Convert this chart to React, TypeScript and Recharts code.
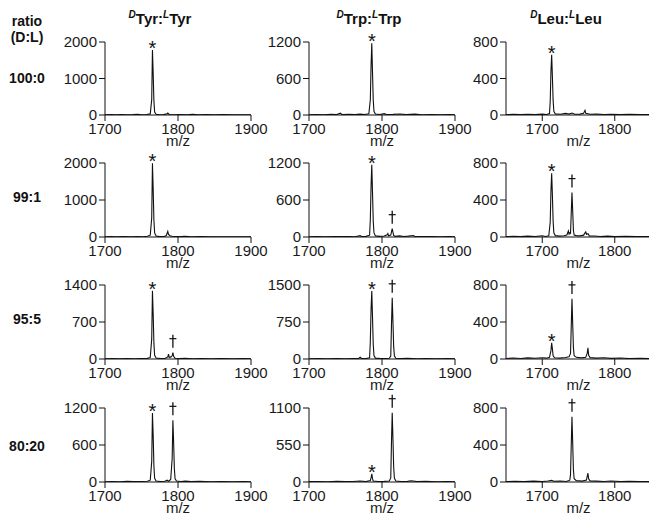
import React from 'react';
import { ComposedChart, Line, XAxis, YAxis, ReferenceDot, Label } from 'recharts';

type Pt = [number, number];
type Mark = [number, number, string];

const FONT = '"Liberation Sans", Arial, Helvetica, sans-serif';

const rowLabels = ['100:0', '99:1', '95:5', '80:20'];
const colNames = ['Tyr', 'Trp', 'Leu'];
const xDomains: [number, number][] = [[1700, 1900], [1700, 1900], [1650, 1850]];
const xTicks = [[1700, 1800, 1900], [1700, 1800, 1900], [1700, 1800]];
const yTicks = [
  [[0, 1000, 2000], [0, 600, 1200], [0, 400, 800]],
  [[0, 1000, 2000], [0, 600, 1200], [0, 400, 800]],
  [[0, 700, 1400], [0, 750, 1500], [0, 400, 800]],
  [[0, 600, 1200], [0, 550, 1100], [0, 400, 800]],
];

// spectra (m/z, intensity)
const tyr100: Pt[] = [[1700,6],[1708,10],[1715,4],[1722,12],[1730,5],[1738,9],[1745,18],[1750,6],[1757,14],[1762,30],[1764,420],[1765,1780],[1766,1150],[1767,380],[1768,80],[1770,20],[1775,8],[1780,12],[1785,30],[1786,55],[1788,14],[1795,6],[1803,11],[1812,5],[1820,16],[1828,6],[1838,10],[1850,4],[1862,9],[1875,5],[1888,8],[1900,4]];
const trp100: Pt[] = [[1700,4],[1710,8],[1720,5],[1730,10],[1738,6],[1743,30],[1745,8],[1755,10],[1763,6],[1770,15],[1776,8],[1782,20],[1784,250],[1785,800],[1786,1180],[1787,700],[1788,250],[1789,60],[1791,15],[1797,8],[1803,22],[1806,7],[1815,10],[1825,16],[1833,6],[1845,14],[1855,5],[1868,8],[1880,4],[1892,7],[1900,4]];
const leu100: Pt[] = [[1650,4],[1660,8],[1670,5],[1680,9],[1690,4],[1700,10],[1706,6],[1710,15],[1711,150],[1712,480],[1713,660],[1714,420],[1715,160],[1716,40],[1718,12],[1725,8],[1732,18],[1737,10],[1741,22],[1745,8],[1752,10],[1757,20],[1759,52],[1760,18],[1766,8],[1775,10],[1785,5],[1795,9],[1808,4],[1820,8],[1835,5],[1850,6]];

const tyr99: Pt[] = [[1700,6],[1708,10],[1716,5],[1725,12],[1735,6],[1745,10],[1752,8],[1758,20],[1762,50],[1764,520],[1765,1990],[1766,1300],[1767,450],[1768,110],[1770,25],[1775,10],[1781,15],[1784,40],[1786,150],[1787,70],[1789,35],[1792,20],[1797,10],[1803,14],[1810,18],[1818,6],[1830,10],[1845,5],[1860,8],[1875,4],[1890,7],[1900,4]];
const trp99: Pt[] = [[1700,4],[1710,7],[1722,5],[1735,9],[1745,6],[1755,8],[1763,5],[1770,22],[1772,8],[1778,10],[1783,30],[1784,280],[1785,820],[1786,1170],[1787,720],[1788,260],[1789,70],[1791,18],[1797,10],[1803,15],[1807,35],[1808,55],[1809,20],[1812,30],[1814,135],[1815,80],[1816,25],[1818,10],[1824,18],[1830,8],[1836,14],[1843,25],[1845,8],[1855,6],[1868,9],[1880,4],[1892,6],[1900,4]];
const leu99: Pt[] = [[1650,4],[1660,7],[1670,5],[1680,9],[1690,5],[1700,14],[1704,6],[1709,12],[1711,160],[1712,500],[1713,690],[1714,450],[1715,170],[1716,45],[1718,15],[1724,10],[1730,14],[1734,22],[1736,65],[1737,30],[1738,45],[1739,40],[1740,260],[1741,480],[1742,280],[1743,70],[1744,20],[1747,15],[1752,12],[1757,20],[1759,45],[1760,55],[1761,30],[1763,35],[1765,12],[1772,10],[1780,6],[1790,9],[1800,5],[1815,8],[1830,4],[1850,6]];

const tyr95: Pt[] = [[1700,5],[1710,9],[1720,4],[1730,10],[1740,6],[1750,9],[1758,12],[1762,30],[1764,380],[1765,1290],[1766,850],[1767,300],[1768,70],[1770,18],[1776,8],[1782,10],[1786,40],[1787,90],[1788,30],[1790,35],[1792,60],[1793,120],[1794,50],[1796,15],[1802,8],[1810,12],[1820,5],[1832,9],[1845,4],[1860,8],[1875,5],[1890,7],[1900,4]];
const trp95: Pt[] = [[1700,5],[1712,8],[1725,4],[1738,10],[1750,6],[1760,9],[1768,12],[1770,35],[1772,10],[1778,8],[1783,25],[1784,350],[1785,1000],[1786,1380],[1787,850],[1788,300],[1789,70],[1791,18],[1798,8],[1805,10],[1810,15],[1812,60],[1813,700],[1814,1240],[1815,760],[1816,250],[1817,60],[1819,15],[1826,8],[1835,12],[1848,5],[1860,9],[1875,4],[1890,7],[1900,4]];
const leu95: Pt[] = [[1650,5],[1660,10],[1670,6],[1680,12],[1690,8],[1700,14],[1706,9],[1710,18],[1712,90],[1713,175],[1714,110],[1715,35],[1717,14],[1724,10],[1732,16],[1737,25],[1739,60],[1740,350],[1741,650],[1742,380],[1743,120],[1744,35],[1747,18],[1754,12],[1760,18],[1762,60],[1763,120],[1764,40],[1766,15],[1775,10],[1785,14],[1795,7],[1808,10],[1820,5],[1835,8],[1850,5]];

const tyr80: Pt[] = [[1700,5],[1710,9],[1720,5],[1730,10],[1740,6],[1750,8],[1758,12],[1762,30],[1764,330],[1765,1120],[1766,760],[1767,260],[1768,60],[1770,15],[1776,8],[1782,12],[1785,30],[1787,12],[1790,40],[1792,380],[1793,1000],[1794,650],[1795,220],[1796,50],[1798,15],[1804,8],[1810,14],[1818,6],[1830,10],[1845,5],[1860,8],[1875,4],[1890,7],[1900,4]];
const trp80: Pt[] = [[1700,5],[1712,8],[1725,4],[1738,9],[1750,5],[1760,8],[1770,14],[1778,6],[1784,20],[1785,60],[1786,120],[1787,50],[1788,15],[1795,8],[1803,10],[1810,14],[1812,60],[1813,600],[1814,1030],[1815,640],[1816,220],[1817,55],[1819,15],[1826,8],[1835,10],[1840,18],[1848,6],[1860,9],[1875,4],[1890,7],[1900,4]];
const leu80: Pt[] = [[1650,4],[1662,8],[1675,5],[1688,9],[1700,6],[1708,10],[1713,18],[1716,8],[1725,10],[1733,6],[1738,20],[1739,80],[1740,400],[1741,705],[1742,420],[1743,130],[1744,35],[1747,15],[1755,10],[1761,20],[1762,60],[1763,95],[1764,35],[1766,12],[1775,9],[1785,6],[1795,10],[1808,5],[1820,8],[1835,4],[1850,6]];

const spectra: Pt[][][] = [
  [tyr100, trp100, leu100],
  [tyr99, trp99, leu99],
  [tyr95, trp95, leu95],
  [tyr80, trp80, leu80],
];

// peak marks: * = D form, † = L form
const marks: Mark[][][] = [
  [[[1765, 1780, '*']], [[1786, 1180, '*']], [[1713, 660, '*']]],
  [[[1765, 1990, '*']], [[1786, 1170, '*'], [1814, 135, '†']], [[1713, 690, '*'], [1741, 480, '†']]],
  [[[1765, 1290, '*'], [1793, 120, '†']], [[1786, 1380, '*'], [1814, 1240, '†']], [[1713, 175, '*'], [1741, 650, '†']]],
  [[[1765, 1120, '*'], [1793, 1000, '†']], [[1786, 120, '*'], [1814, 1030, '†']], [[1741, 705, '†']]],
];

// layout of plot areas
const plotLeft = [105, 309, 506];
const plotW = [146, 146, 145];
const plotTop = [42, 163, 285, 408];
const plotH = [73, 74, 74, 74];
const titleX = [160, 369, 566];
const rowLabelY = [83, 202, 324, 451];

const axisStyle = { fill: '#1a1a1a', fontSize: 15, fontFamily: FONT };

function MarkShape({ cx, cy, s }: { cx: number; cy: number; s: string }) {
  if (s === '*') {
    return (
      <text x={cx} y={cy + 5} textAnchor="middle" fontSize={20} fontFamily={FONT} fill="#111">
        *
      </text>
    );
  }
  // dagger drawn as strokes
  return (
    <g stroke="#111" fill="none">
      <line x1={cx} y1={cy - 18} x2={cx} y2={cy - 5} strokeWidth={1.3} />
      <line x1={cx - 3.5} y1={cy - 14} x2={cx + 3.5} y2={cy - 14} strokeWidth={1.2} />
    </g>
  );
}

function Panel({ r, c }: { r: number; c: number }) {
  const data = spectra[r][c].map(([mz, i]) => ({ mz, i }));
  const yt = yTicks[r][c];
  const right = c === 2 ? 12 : 30;
  const w = 60 + plotW[c] + right;
  const h = 20 + plotH[r] + 40;
  return (
    <div style={{ position: 'absolute', left: plotLeft[c] - 60, top: plotTop[r] - 20 }}>
      <ComposedChart width={w} height={h} data={data} margin={{ top: 20, right, bottom: 0, left: 0 }} style={{ overflow: 'visible' }}>
        <XAxis
          dataKey="mz"
          type="number"
          domain={xDomains[c]}
          ticks={xTicks[c]}
          interval={0}
          allowDataOverflow
          height={40}
          tickSize={6}
          tickMargin={2}
          tick={axisStyle}
          stroke="#111"
        >
          <Label value="m/z" position="insideBottom" offset={9} style={axisStyle} />
        </XAxis>
        <YAxis
          type="number"
          domain={[0, yt[2]]}
          ticks={yt}
          interval={0}
          allowDataOverflow
          width={60}
          tickSize={6}
          tickMargin={2}
          tick={axisStyle}
          stroke="#111"
        />
        <Line dataKey="i" type="linear" dot={false} stroke="#111" strokeWidth={1.1} isAnimationActive={false} />
        {marks[r][c].map(([mz, i, s], k) => (
          <ReferenceDot
            key={k}
            x={mz}
            y={i}
            r={0}
            ifOverflow="visible"
            shape={(p: any) => <MarkShape cx={p.cx} cy={p.cy} s={s} />}
          />
        ))}
      </ComposedChart>
    </div>
  );
}

export default function App() {
  return (
    <div style={{ position: 'absolute', left: 0, top: 0, width: 649, height: 516, background: '#fff', overflow: 'hidden' }}>
      <svg width={649} height={516} style={{ position: 'absolute', left: 0, top: 0 }}>
        <g fontFamily={FONT} fontWeight="bold" fill="#111">
          <text x={27} y={26} fontSize={14} textAnchor="middle">ratio</text>
          <text x={27} y={42} fontSize={14} textAnchor="middle">(D:L)</text>
          {rowLabels.map((t, k) => (
            <text key={t} x={27} y={rowLabelY[k]} fontSize={14} textAnchor="middle">{t}</text>
          ))}
          {colNames.map((n, k) => (
            <text key={n} x={titleX[k]} y={24} fontSize={15} textAnchor="middle">
              <tspan fontSize={10} fontStyle="italic" dy={-6}>D</tspan>
              <tspan dy={6}>{n}:</tspan>
              <tspan fontSize={10} fontStyle="italic" dy={-6}>L</tspan>
              <tspan dy={6}>{n}</tspan>
            </text>
          ))}
        </g>
      </svg>
      {rowLabels.map((_, r) => colNames.map((__, c) => <Panel key={`${r}-${c}`} r={r} c={c} />))}
    </div>
  );
}
